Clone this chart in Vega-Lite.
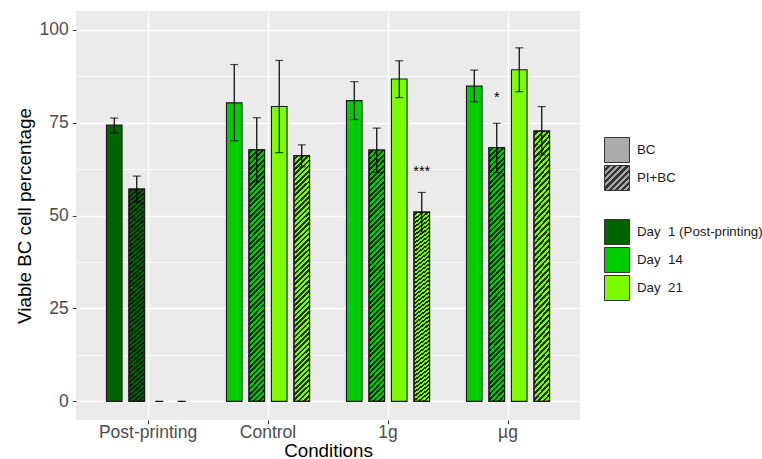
{
  "$schema": "https://vega.github.io/schema/vega-lite/v6.json",
  "width": 504,
  "height": 409,
  "autosize": {"type": "none"},
  "padding": {"left": 76, "top": 11, "right": 182, "bottom": 39},
  "config": {
    "view": {"fill": "#EBEBEB", "stroke": null},
    "font": "Liberation Sans",
    "axis": {
      "domain": false,
      "gridColor": "#FFFFFF",
      "tickColor": "#333333",
      "tickWidth": 1.1,
      "tickSize": 3.7,
      "labelColor": "#4D4D4D",
      "labelFontSize": 17.5,
      "titleFontSize": 18.8,
      "titleFontWeight": "normal",
      "titleColor": "#000000"
    },
    "legend": {"labelFont": "Liberation Sans"}
  },
  "resolve": {"scale": {"fill": "independent"}, "legend": {"fill": "independent"}},
  "data": {
    "values": [
      {"Condition": "Post-printing", "slot": 1, "Day": "Day 1 (Post-printing)", "Type": "BC", "value": 74.3, "lo": 72.2, "hi": 76.2, "sig": null, "sig_y": null},
      {"Condition": "Post-printing", "slot": 2, "Day": "Day 1 (Post-printing)", "Type": "PI+BC", "value": 57.1, "lo": 53.6, "hi": 60.6, "sig": null, "sig_y": null},
      {"Condition": "Post-printing", "slot": 3, "Day": "Day 1 (Post-printing)", "Type": "BC", "value": null, "lo": 0, "hi": 0, "sig": null, "sig_y": null},
      {"Condition": "Post-printing", "slot": 4, "Day": "Day 1 (Post-printing)", "Type": "PI+BC", "value": null, "lo": 0, "hi": 0, "sig": null, "sig_y": null},
      {"Condition": "Control", "slot": 1, "Day": "Day 14", "Type": "BC", "value": 80.3, "lo": 70.1, "hi": 90.6, "sig": null, "sig_y": null},
      {"Condition": "Control", "slot": 2, "Day": "Day 14", "Type": "PI+BC", "value": 67.7, "lo": 59.1, "hi": 76.3, "sig": null, "sig_y": null},
      {"Condition": "Control", "slot": 3, "Day": "Day 21", "Type": "BC", "value": 79.3, "lo": 66.9, "hi": 91.7, "sig": null, "sig_y": null},
      {"Condition": "Control", "slot": 4, "Day": "Day 21", "Type": "PI+BC", "value": 66.1, "lo": 63.1, "hi": 69.0, "sig": null, "sig_y": null},
      {"Condition": "1g", "slot": 1, "Day": "Day 14", "Type": "BC", "value": 80.9, "lo": 75.8, "hi": 86.0, "sig": null, "sig_y": null},
      {"Condition": "1g", "slot": 2, "Day": "Day 14", "Type": "PI+BC", "value": 67.6, "lo": 61.6, "hi": 73.5, "sig": null, "sig_y": null},
      {"Condition": "1g", "slot": 3, "Day": "Day 21", "Type": "BC", "value": 86.7, "lo": 81.7, "hi": 91.6, "sig": null, "sig_y": null},
      {"Condition": "1g", "slot": 4, "Day": "Day 21", "Type": "PI+BC", "value": 50.9, "lo": 45.6, "hi": 56.2, "sig": "***", "sig_y": 60.7},
      {"Condition": "µg", "slot": 1, "Day": "Day 14", "Type": "BC", "value": 84.8, "lo": 80.6, "hi": 89.1, "sig": null, "sig_y": null},
      {"Condition": "µg", "slot": 2, "Day": "Day 14", "Type": "PI+BC", "value": 68.3, "lo": 61.6, "hi": 74.8, "sig": "*", "sig_y": 80.5},
      {"Condition": "µg", "slot": 3, "Day": "Day 21", "Type": "BC", "value": 89.2, "lo": 83.3, "hi": 95.1, "sig": null, "sig_y": null},
      {"Condition": "µg", "slot": 4, "Day": "Day 21", "Type": "PI+BC", "value": 72.7, "lo": 66.3, "hi": 79.3, "sig": null, "sig_y": null}
    ]
  },
  "encoding": {
    "x": {
      "field": "Condition",
      "type": "nominal",
      "sort": ["Post-printing", "Control", "1g", "µg"],
      "scale": {"paddingInner": 0, "paddingOuter": 0.1},
      "axis": {"title": "Conditions", "labelAngle": 0, "grid": true, "gridWidth": 1.4, "bandPosition": 0.5, "labelPadding": 0, "titlePadding": 0}
    },
    "xOffset": {
      "field": "slot",
      "type": "nominal",
      "scale": {"domain": [1, 2, 3, 4], "paddingInner": 0.307, "paddingOuter": 0.82}
    }
  },
  "layer": [
    {
      "transform": [{"filter": "datum.value != null"}],
      "mark": {"type": "bar", "opacity": 0},
      "encoding": {
        "y": {
          "field": "value",
          "type": "quantitative",
          "scale": {"domain": [-5, 105], "nice": false, "zero": false},
          "axis": {
            "title": "Viable BC cell percentage",
            "values": [0, 12.5, 25, 37.5, 50, 62.5, 75, 87.5, 100],
            "labelExpr": "datum.value % 25 == 0 ? datum.label : ''",
            "tickSize": {"condition": {"test": "datum.value % 25 != 0", "value": 0}, "value": 3.7},
            "gridWidth": {"condition": {"test": "datum.value % 25 != 0", "value": 0.7}, "value": 1.4},
            "labelPadding": 4,
            "titlePadding": 5
          }
        },
        "y2": {"datum": 0},
        "fill": {
          "field": "Type",
          "type": "nominal",
          "scale": {
            "domain": ["BC", "PI+BC"],
            "range": [
              "#ABABAB",
              {"expr": "{gradient: 'linear', x1: 0, y1: 0, x2: 1, y2: 1, stops: [{offset: 0, color: '#A6A6A6'}, {offset: 0.0625, color: '#A6A6A6'}, {offset: 0.0625, color: '#333333'}, {offset: 0.125, color: '#333333'}, {offset: 0.125, color: '#A6A6A6'}, {offset: 0.1875, color: '#A6A6A6'}, {offset: 0.1875, color: '#333333'}, {offset: 0.25, color: '#333333'}, {offset: 0.25, color: '#A6A6A6'}, {offset: 0.3125, color: '#A6A6A6'}, {offset: 0.3125, color: '#333333'}, {offset: 0.375, color: '#333333'}, {offset: 0.375, color: '#A6A6A6'}, {offset: 0.4375, color: '#A6A6A6'}, {offset: 0.4375, color: '#333333'}, {offset: 0.5, color: '#333333'}, {offset: 0.5, color: '#A6A6A6'}, {offset: 0.5625, color: '#A6A6A6'}, {offset: 0.5625, color: '#333333'}, {offset: 0.625, color: '#333333'}, {offset: 0.625, color: '#A6A6A6'}, {offset: 0.6875, color: '#A6A6A6'}, {offset: 0.6875, color: '#333333'}, {offset: 0.75, color: '#333333'}, {offset: 0.75, color: '#A6A6A6'}, {offset: 0.8125, color: '#A6A6A6'}, {offset: 0.8125, color: '#333333'}, {offset: 0.875, color: '#333333'}, {offset: 0.875, color: '#A6A6A6'}, {offset: 0.9375, color: '#A6A6A6'}, {offset: 0.9375, color: '#333333'}, {offset: 1, color: '#333333'}]}"}
            ]
          },
          "legend": {
            "title": null,
            "orient": "none",
            "legendX": 528,
            "legendY": 126,
            "padding": 0,
            "symbolType": "square",
            "symbolSize": 625,
            "rowPadding": -7,
            "symbolStrokeColor": "#333333",
            "symbolStrokeWidth": 1,
            "symbolOpacity": 1,
            "labelFontSize": 13.3,
            "labelOffset": 7,
            "labelColor": "#1A1A1A"
          }
        }
      }
    },
    {
      "transform": [{"filter": "datum.value != null"}],
      "mark": {"type": "bar", "stroke": "#1A1A1A", "strokeWidth": 1.1},
      "encoding": {
        "y": {"field": "value", "type": "quantitative", "scale": {"domain": [-5, 105], "nice": false, "zero": false}},
        "y2": {"datum": 0},
        "fill": {
          "field": "Day",
          "type": "nominal",
          "scale": {"domain": ["Day 1 (Post-printing)", "Day 14", "Day 21"], "range": ["#006400", "#00CD00", "#7CFC00"]},
          "legend": {
            "title": null,
            "orient": "none",
            "legendX": 528,
            "legendY": 208,
            "padding": 0,
            "symbolType": "square",
            "symbolSize": 625,
            "rowPadding": -7,
            "symbolStrokeColor": "#333333",
            "symbolStrokeWidth": 1,
            "symbolOpacity": 1,
            "labelFontSize": 13.3,
            "labelOffset": 7,
            "labelColor": "#1A1A1A",
            "labelExpr": "replace(datum.label, 'Day ', 'Day\u00a0 ')"
          }
        }
      }
    },
    {
      "transform": [{"filter": "datum.value != null && datum.Type == 'PI+BC'"}],
      "mark": {
        "type": "bar",
        "stroke": "#1A1A1A",
        "strokeWidth": 1.1,
        "fill": {
          "gradient": "linear",
          "x1": 0, "y1": 0, "x2": 0.06625, "y2": 1.06,
          "stops": [
            {"offset": 0, "color": "#0000"}, {"offset": 0.01, "color": "#0000"}, {"offset": 0.01, "color": "#111d"}, {"offset": 0.02, "color": "#111d"},
            {"offset": 0.02, "color": "#0000"}, {"offset": 0.03, "color": "#0000"}, {"offset": 0.03, "color": "#111d"}, {"offset": 0.04, "color": "#111d"},
            {"offset": 0.04, "color": "#0000"}, {"offset": 0.05, "color": "#0000"}, {"offset": 0.05, "color": "#111d"}, {"offset": 0.06, "color": "#111d"},
            {"offset": 0.06, "color": "#0000"}, {"offset": 0.07, "color": "#0000"}, {"offset": 0.07, "color": "#111d"}, {"offset": 0.08, "color": "#111d"},
            {"offset": 0.08, "color": "#0000"}, {"offset": 0.09, "color": "#0000"}, {"offset": 0.09, "color": "#111d"}, {"offset": 0.10, "color": "#111d"},
            {"offset": 0.10, "color": "#0000"}, {"offset": 0.11, "color": "#0000"}, {"offset": 0.11, "color": "#111d"}, {"offset": 0.12, "color": "#111d"},
            {"offset": 0.12, "color": "#0000"}, {"offset": 0.13, "color": "#0000"}, {"offset": 0.13, "color": "#111d"}, {"offset": 0.14, "color": "#111d"},
            {"offset": 0.14, "color": "#0000"}, {"offset": 0.15, "color": "#0000"}, {"offset": 0.15, "color": "#111d"}, {"offset": 0.16, "color": "#111d"},
            {"offset": 0.16, "color": "#0000"}, {"offset": 0.17, "color": "#0000"}, {"offset": 0.17, "color": "#111d"}, {"offset": 0.18, "color": "#111d"},
            {"offset": 0.18, "color": "#0000"}, {"offset": 0.19, "color": "#0000"}, {"offset": 0.19, "color": "#111d"}, {"offset": 0.20, "color": "#111d"},
            {"offset": 0.20, "color": "#0000"}, {"offset": 0.21, "color": "#0000"}, {"offset": 0.21, "color": "#111d"}, {"offset": 0.22, "color": "#111d"},
            {"offset": 0.22, "color": "#0000"}, {"offset": 0.23, "color": "#0000"}, {"offset": 0.23, "color": "#111d"}, {"offset": 0.24, "color": "#111d"},
            {"offset": 0.24, "color": "#0000"}, {"offset": 0.25, "color": "#0000"}, {"offset": 0.25, "color": "#111d"}, {"offset": 0.26, "color": "#111d"},
            {"offset": 0.26, "color": "#0000"}, {"offset": 0.27, "color": "#0000"}, {"offset": 0.27, "color": "#111d"}, {"offset": 0.28, "color": "#111d"},
            {"offset": 0.28, "color": "#0000"}, {"offset": 0.29, "color": "#0000"}, {"offset": 0.29, "color": "#111d"}, {"offset": 0.30, "color": "#111d"},
            {"offset": 0.30, "color": "#0000"}, {"offset": 0.31, "color": "#0000"}, {"offset": 0.31, "color": "#111d"}, {"offset": 0.32, "color": "#111d"},
            {"offset": 0.32, "color": "#0000"}, {"offset": 0.33, "color": "#0000"}, {"offset": 0.33, "color": "#111d"}, {"offset": 0.34, "color": "#111d"},
            {"offset": 0.34, "color": "#0000"}, {"offset": 0.35, "color": "#0000"}, {"offset": 0.35, "color": "#111d"}, {"offset": 0.36, "color": "#111d"},
            {"offset": 0.36, "color": "#0000"}, {"offset": 0.37, "color": "#0000"}, {"offset": 0.37, "color": "#111d"}, {"offset": 0.38, "color": "#111d"},
            {"offset": 0.38, "color": "#0000"}, {"offset": 0.39, "color": "#0000"}, {"offset": 0.39, "color": "#111d"}, {"offset": 0.40, "color": "#111d"},
            {"offset": 0.40, "color": "#0000"}, {"offset": 0.41, "color": "#0000"}, {"offset": 0.41, "color": "#111d"}, {"offset": 0.42, "color": "#111d"},
            {"offset": 0.42, "color": "#0000"}, {"offset": 0.43, "color": "#0000"}, {"offset": 0.43, "color": "#111d"}, {"offset": 0.44, "color": "#111d"},
            {"offset": 0.44, "color": "#0000"}, {"offset": 0.45, "color": "#0000"}, {"offset": 0.45, "color": "#111d"}, {"offset": 0.46, "color": "#111d"},
            {"offset": 0.46, "color": "#0000"}, {"offset": 0.47, "color": "#0000"}, {"offset": 0.47, "color": "#111d"}, {"offset": 0.48, "color": "#111d"},
            {"offset": 0.48, "color": "#0000"}, {"offset": 0.49, "color": "#0000"}, {"offset": 0.49, "color": "#111d"}, {"offset": 0.50, "color": "#111d"},
            {"offset": 0.50, "color": "#0000"}, {"offset": 0.51, "color": "#0000"}, {"offset": 0.51, "color": "#111d"}, {"offset": 0.52, "color": "#111d"},
            {"offset": 0.52, "color": "#0000"}, {"offset": 0.53, "color": "#0000"}, {"offset": 0.53, "color": "#111d"}, {"offset": 0.54, "color": "#111d"},
            {"offset": 0.54, "color": "#0000"}, {"offset": 0.55, "color": "#0000"}, {"offset": 0.55, "color": "#111d"}, {"offset": 0.56, "color": "#111d"},
            {"offset": 0.56, "color": "#0000"}, {"offset": 0.57, "color": "#0000"}, {"offset": 0.57, "color": "#111d"}, {"offset": 0.58, "color": "#111d"},
            {"offset": 0.58, "color": "#0000"}, {"offset": 0.59, "color": "#0000"}, {"offset": 0.59, "color": "#111d"}, {"offset": 0.60, "color": "#111d"},
            {"offset": 0.60, "color": "#0000"}, {"offset": 0.61, "color": "#0000"}, {"offset": 0.61, "color": "#111d"}, {"offset": 0.62, "color": "#111d"},
            {"offset": 0.62, "color": "#0000"}, {"offset": 0.63, "color": "#0000"}, {"offset": 0.63, "color": "#111d"}, {"offset": 0.64, "color": "#111d"},
            {"offset": 0.64, "color": "#0000"}, {"offset": 0.65, "color": "#0000"}, {"offset": 0.65, "color": "#111d"}, {"offset": 0.66, "color": "#111d"},
            {"offset": 0.66, "color": "#0000"}, {"offset": 0.67, "color": "#0000"}, {"offset": 0.67, "color": "#111d"}, {"offset": 0.68, "color": "#111d"},
            {"offset": 0.68, "color": "#0000"}, {"offset": 0.69, "color": "#0000"}, {"offset": 0.69, "color": "#111d"}, {"offset": 0.70, "color": "#111d"},
            {"offset": 0.70, "color": "#0000"}, {"offset": 0.71, "color": "#0000"}, {"offset": 0.71, "color": "#111d"}, {"offset": 0.72, "color": "#111d"},
            {"offset": 0.72, "color": "#0000"}, {"offset": 0.73, "color": "#0000"}, {"offset": 0.73, "color": "#111d"}, {"offset": 0.74, "color": "#111d"},
            {"offset": 0.74, "color": "#0000"}, {"offset": 0.75, "color": "#0000"}, {"offset": 0.75, "color": "#111d"}, {"offset": 0.76, "color": "#111d"},
            {"offset": 0.76, "color": "#0000"}, {"offset": 0.77, "color": "#0000"}, {"offset": 0.77, "color": "#111d"}, {"offset": 0.78, "color": "#111d"},
            {"offset": 0.78, "color": "#0000"}, {"offset": 0.79, "color": "#0000"}, {"offset": 0.79, "color": "#111d"}, {"offset": 0.80, "color": "#111d"},
            {"offset": 0.80, "color": "#0000"}, {"offset": 0.81, "color": "#0000"}, {"offset": 0.81, "color": "#111d"}, {"offset": 0.82, "color": "#111d"},
            {"offset": 0.82, "color": "#0000"}, {"offset": 0.83, "color": "#0000"}, {"offset": 0.83, "color": "#111d"}, {"offset": 0.84, "color": "#111d"},
            {"offset": 0.84, "color": "#0000"}, {"offset": 0.85, "color": "#0000"}, {"offset": 0.85, "color": "#111d"}, {"offset": 0.86, "color": "#111d"},
            {"offset": 0.86, "color": "#0000"}, {"offset": 0.87, "color": "#0000"}, {"offset": 0.87, "color": "#111d"}, {"offset": 0.88, "color": "#111d"},
            {"offset": 0.88, "color": "#0000"}, {"offset": 0.89, "color": "#0000"}, {"offset": 0.89, "color": "#111d"}, {"offset": 0.90, "color": "#111d"},
            {"offset": 0.90, "color": "#0000"}, {"offset": 0.91, "color": "#0000"}, {"offset": 0.91, "color": "#111d"}, {"offset": 0.92, "color": "#111d"},
            {"offset": 0.92, "color": "#0000"}, {"offset": 0.93, "color": "#0000"}, {"offset": 0.93, "color": "#111d"}, {"offset": 0.94, "color": "#111d"},
            {"offset": 0.94, "color": "#0000"}, {"offset": 0.95, "color": "#0000"}, {"offset": 0.95, "color": "#111d"}, {"offset": 0.96, "color": "#111d"},
            {"offset": 0.96, "color": "#0000"}, {"offset": 0.97, "color": "#0000"}, {"offset": 0.97, "color": "#111d"}, {"offset": 0.98, "color": "#111d"},
            {"offset": 0.98, "color": "#0000"}, {"offset": 0.99, "color": "#0000"}, {"offset": 0.99, "color": "#111d"}, {"offset": 1, "color": "#111d"}
          ]
        }
      },
      "encoding": {
        "y": {"field": "value", "type": "quantitative", "scale": {"domain": [-5, 105], "nice": false, "zero": false}},
        "y2": {"datum": 0}
      }
    },
    {
      "mark": {"type": "rule", "color": "#000000", "strokeWidth": 1.2},
      "encoding": {
        "y": {"field": "lo", "type": "quantitative", "scale": {"domain": [-5, 105], "nice": false, "zero": false}},
        "y2": {"field": "hi"}
      }
    },
    {
      "mark": {"type": "tick", "color": "#000000", "size": 8, "thickness": 1.2, "orient": "horizontal"},
      "encoding": {
        "y": {"field": "lo", "type": "quantitative", "scale": {"domain": [-5, 105], "nice": false, "zero": false}}
      }
    },
    {
      "mark": {"type": "tick", "color": "#000000", "size": 8, "thickness": 1.2, "orient": "horizontal"},
      "encoding": {
        "y": {"field": "hi", "type": "quantitative", "scale": {"domain": [-5, 105], "nice": false, "zero": false}}
      }
    },
    {
      "transform": [{"filter": "datum.sig != null"}],
      "mark": {"type": "text", "color": "#000000", "fontSize": 14.5, "baseline": "alphabetic", "align": "center"},
      "encoding": {
        "y": {"field": "sig_y", "type": "quantitative", "scale": {"domain": [-5, 105], "nice": false, "zero": false}},
        "text": {"field": "sig"}
      }
    }
  ]
}
